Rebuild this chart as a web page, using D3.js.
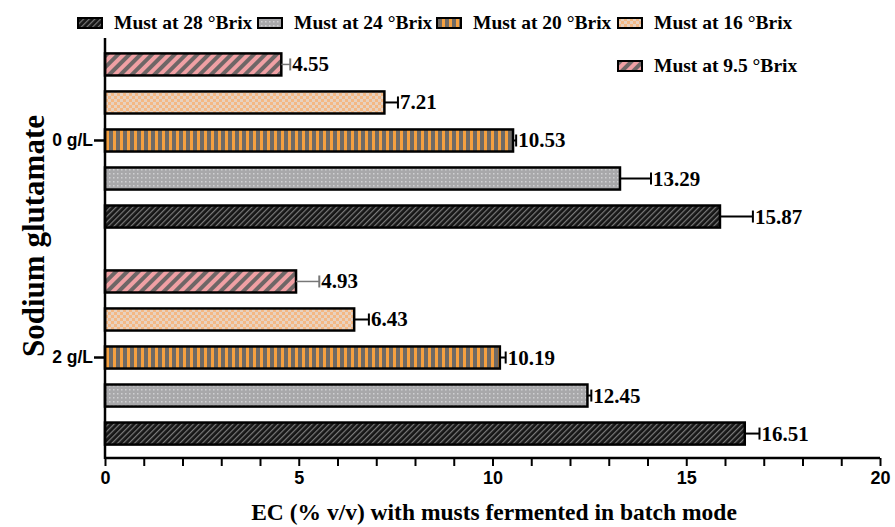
<!DOCTYPE html>
<html><head><meta charset="utf-8">
<script src="https://cdn.jsdelivr.net/npm/d3@7"></script>
<style>body{margin:0;background:#fff}</style>
</head><body>
<svg id="c" width="895" height="527"></svg>
<script>
const groups = ["0 g/L", "2 g/L"];
const series = ["Must at 9.5 °Brix", "Must at 16 °Brix", "Must at 20 °Brix", "Must at 24 °Brix", "Must at 28 °Brix"];
const values0 = [4.55, 7.21, 10.53, 13.29, 15.87];
const values2 = [4.93, 6.43, 10.19, 12.45, 16.51];
const errors0 = [0.23, 0.35, 0.08, 0.80, 0.85];
const errors2 = [0.60, 0.38, 0.15, 0.10, 0.38];
const xTicks = [0, 5, 10, 15, 20];
const legendOrder = ["Must at 28 °Brix", "Must at 24 °Brix", "Must at 20 °Brix", "Must at 16 °Brix", "Must at 9.5 °Brix"];

const svg = d3.select("#c");
const defs = svg.append("defs");
const patId = ["p95", "p16", "p20", "p24", "p28"];
const serif = "'Liberation Serif','Times New Roman',serif";

// 9.5: pink/grey diagonal
let p = defs.append("pattern").attr("id", "p95").attr("patternUnits", "userSpaceOnUse").attr("width", 8).attr("height", 8).attr("patternTransform", "rotate(45)");
p.append("rect").attr("width", 8).attr("height", 8).attr("fill", "#f0a0a4");
p.append("rect").attr("width", 4).attr("height", 8).attr("fill", "#6e6666");
// 16: checker peach
p = defs.append("pattern").attr("id", "p16").attr("patternUnits", "userSpaceOnUse").attr("width", 6).attr("height", 6);
p.append("rect").attr("width", 6).attr("height", 6).attr("fill", "#e8d2c0");
p.append("rect").attr("width", 3).attr("height", 3).attr("fill", "#f4b884");
p.append("rect").attr("x", 3).attr("y", 3).attr("width", 3).attr("height", 3).attr("fill", "#f4b884");
// 20: vertical orange/grey stripes
p = defs.append("pattern").attr("id", "p20").attr("patternUnits", "userSpaceOnUse").attr("width", 7).attr("height", 7);
p.append("rect").attr("width", 7).attr("height", 7).attr("fill", "#6e6a66");
p.append("rect").attr("x", 1).attr("width", 3).attr("height", 7).attr("fill", "#f4a040");
// 24: grey dots
p = defs.append("pattern").attr("id", "p24").attr("patternUnits", "userSpaceOnUse").attr("width", 4).attr("height", 4);
p.append("rect").attr("width", 4).attr("height", 4).attr("fill", "#a8a8aa");
p.append("rect").attr("x", 1).attr("y", 1).attr("width", 1.5).attr("height", 1.5).attr("fill", "#d0d0d2");
// 28: dark hatch
p = defs.append("pattern").attr("id", "p28").attr("patternUnits", "userSpaceOnUse").attr("width", 4).attr("height", 4).attr("patternTransform", "rotate(45)");
p.append("rect").attr("width", 4).attr("height", 4).attr("fill", "#161616");
p.append("rect").attr("width", 1.2).attr("height", 4).attr("fill", "#7a7a7a");

const x = d3.scaleLinear().domain([0, 20]).range([105, 880]);
const yOuter = d3.scaleBand().domain(groups).range([40, 458]).paddingInner(0.124).paddingOuter(0.025);
const yInner = d3.scaleBand().domain(series).range([0, yOuter.bandwidth()]).paddingInner(0.42).paddingOuter(0.21);

const data = [];
groups.forEach((g, gi) => {
  const vals = gi === 0 ? values0 : values2;
  const errs = gi === 0 ? errors0 : errors2;
  series.forEach((s, si) => data.push({ g, s, si, v: vals[si], e: errs[si] }));
});

const bars = svg.append("g");
bars.selectAll("rect").data(data).join("rect")
  .attr("x", x(0))
  .attr("y", d => yOuter(d.g) + yInner(d.s))
  .attr("width", d => x(d.v) - x(0))
  .attr("height", yInner.bandwidth())
  .attr("fill", d => `url(#${patId[d.si]})`)
  .attr("stroke", "#000").attr("stroke-width", 2.5);

const eb = svg.append("g");
data.forEach(d => {
  const cy = yOuter(d.g) + yInner(d.s) + yInner.bandwidth() / 2;
  const col = d.si === 0 ? "#777" : "#000";
  eb.append("line").attr("x1", x(d.v)).attr("x2", x(d.v + d.e)).attr("y1", cy).attr("y2", cy).attr("stroke", col).attr("stroke-width", d.si === 0 ? 1.5 : 2);
  eb.append("line").attr("x1", x(d.v + d.e)).attr("x2", x(d.v + d.e)).attr("y1", cy - 6).attr("y2", cy + 6).attr("stroke", col).attr("stroke-width", 2);
  eb.append("text").attr("x", x(d.v + d.e) + 2).attr("y", cy + 7)
    .attr("font-family", serif).attr("font-weight", "bold").attr("font-size", 21)
    .attr("fill", "#000").text(d.v.toFixed(2));
});

// X axis
const xa = svg.append("g").attr("transform", "translate(0,458)")
  .call(d3.axisBottom(x).tickValues(d3.range(0, 21, 1)).tickSize(8).tickFormat(d => xTicks.includes(d) ? d : ""));
xa.select(".domain").attr("stroke-width", 2.5).attr("d", "M105,0H880");
xa.selectAll(".tick line").attr("stroke-width", 2);
xa.selectAll(".tick text").attr("font-family", "'Liberation Sans Narrow','Arial Narrow','Liberation Sans',sans-serif")
  .attr("font-weight", "bold").attr("font-size", 18).attr("dy", "0.85em");

// Y axis
const ya = svg.append("g").attr("transform", "translate(105,0)")
  .call(d3.axisLeft(yOuter).tickSize(11).tickSizeOuter(0));
ya.select(".domain").attr("stroke-width", 2.5).attr("d", "M0,38V459");
ya.selectAll(".tick line").attr("stroke-width", 2.5);
ya.selectAll(".tick text").attr("font-family", "'Liberation Sans',Arial,sans-serif")
  .attr("font-weight", "bold").attr("font-size", 17.5).attr("x", -12);

// Titles
svg.append("text").attr("x", 494).attr("y", 520).attr("text-anchor", "middle")
  .attr("font-family", serif).attr("font-weight", "bold").attr("font-size", 23.5)
  .text("EC (% v/v) with musts fermented in batch mode");
svg.append("text").attr("transform", "translate(44,236) rotate(-90)").attr("text-anchor", "middle")
  .attr("font-family", serif).attr("font-weight", "bold").attr("font-size", 31)
  .text("Sodium glutamate");

// Legend
const legPos = [[78, 23], [258, 23], [437, 23], [618, 23], [618, 66]];
const lg = svg.append("g");
legendOrder.forEach((s, i) => {
  const si = series.indexOf(s);
  const [lx, ly] = legPos[i];
  lg.append("rect").attr("x", lx).attr("y", ly - 5).attr("width", 24).attr("height", 10)
    .attr("fill", `url(#${patId[si]})`).attr("stroke", "#000").attr("stroke-width", 2);
  lg.append("text").attr("x", lx + 36).attr("y", ly + 6)
    .attr("font-family", serif).attr("font-weight", "bold").attr("font-size", 19.5)
    .text(s);
});
</script>
</body></html>
